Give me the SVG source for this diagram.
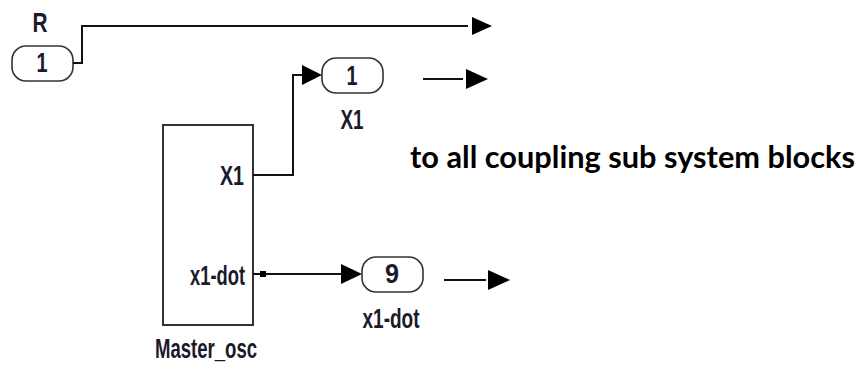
<svg xmlns="http://www.w3.org/2000/svg" width="864" height="368" viewBox="0 0 864 368">
<style>
.port{fill:#fff;stroke:#333;stroke-width:1.6}
.blk{fill:#fff;stroke:#333;stroke-width:2}
.ln{fill:none;stroke:#111;stroke-width:2}
.ah{fill:#000}
.t{font-family:"Liberation Sans",Arial,sans-serif;font-weight:bold;fill:#1a1a2a;font-size:28px}
.big{font-family:Lato,"Open Sans",sans-serif;font-weight:bold;fill:#000;font-size:31px}
</style>
<rect width="864" height="368" fill="#fff"/>
<g id="inport_R">
<rect class="port" x="12" y="46" width="61" height="35" rx="14" ry="14"/>
<text class="t" x="42" y="72" text-anchor="middle" textLength="11" lengthAdjust="spacingAndGlyphs">1</text>
<text class="t" x="40" y="32" text-anchor="middle" textLength="15" lengthAdjust="spacingAndGlyphs">R</text>
</g>
<g id="master_osc">
<rect class="blk" x="163" y="125" width="90" height="200"/>
<text class="t" x="244" y="185" text-anchor="end" textLength="24" lengthAdjust="spacingAndGlyphs">X1</text>
<text class="t" x="245" y="285" text-anchor="end" textLength="55" lengthAdjust="spacingAndGlyphs">x1-dot</text>
<text class="t" x="206" y="358" text-anchor="middle" textLength="102" lengthAdjust="spacingAndGlyphs">Master_osc</text>
</g>
<g id="outport_X1">
<rect class="port" x="322" y="58" width="61" height="35" rx="14" ry="14"/>
<text class="t" x="352" y="85" text-anchor="middle" textLength="11" lengthAdjust="spacingAndGlyphs">1</text>
<text class="t" x="352" y="129" text-anchor="middle" textLength="23" lengthAdjust="spacingAndGlyphs">X1</text>
</g>
<g id="outport_x1dot">
<rect class="port" x="362" y="257" width="61" height="35" rx="14" ry="14"/>
<text class="t" x="392" y="283" text-anchor="middle" textLength="14" lengthAdjust="spacingAndGlyphs">9</text>
<text class="t" x="391" y="328" text-anchor="middle" textLength="57" lengthAdjust="spacingAndGlyphs">x1-dot</text>
</g>
<g id="note">
<text class="big" x="410" y="168" textLength="445" lengthAdjust="spacingAndGlyphs">to all coupling sub system blocks</text>
</g>
<g id="connectors">
<polyline class="ln" points="73,63 82,63 82,26 468,26"/>
<polygon class="ah" points="472,17 492,26 472,35"/>
<polyline class="ln" points="253,175 293,175 293,75 304,75"/>
<polygon class="ah" points="302,65 322,75 302,85"/>
<line class="ln" x1="423" y1="79" x2="463" y2="79"/>
<polygon class="ah" points="466,69 488,79 466,89"/>
<line class="ln" x1="253" y1="274" x2="343" y2="274"/>
<rect x="260" y="271" width="6" height="6" fill="#000"/>
<polygon class="ah" points="341,264 362,274 341,284"/>
<line class="ln" x1="444" y1="280" x2="486" y2="280"/>
<polygon class="ah" points="488,270 510,280 488,290"/>
</g>
</svg>
